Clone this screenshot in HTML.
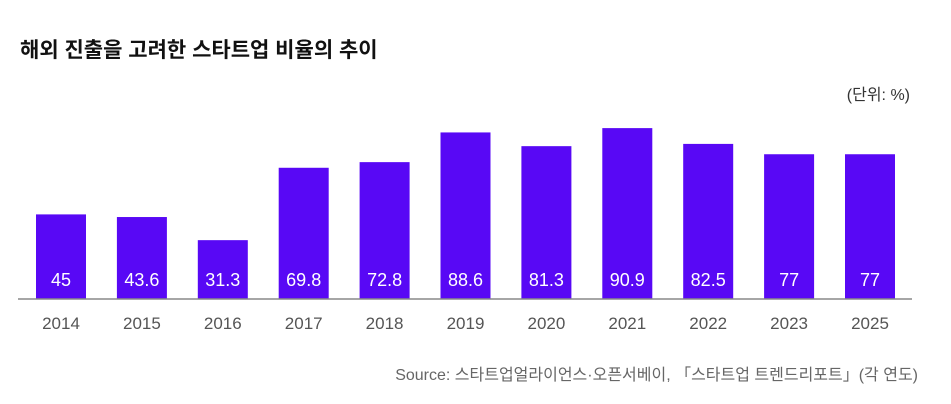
<!DOCTYPE html>
<html><head><meta charset="utf-8"><style>
body{margin:0;background:#fff;width:951px;height:404px;overflow:hidden;font-family:"Liberation Sans","Noto Sans CJK KR",sans-serif}
</style></head><body>
<svg width="951" height="404" style="display:block">
<text x="20" y="57" font-size="21" font-weight="bold" fill="#111" font-family="Liberation Sans, Noto Sans CJK KR, sans-serif">해외 진출을 고려한 스타트업 비율의 추이</text>
<text x="910" y="100" font-size="16" fill="#333" text-anchor="end" font-family="Liberation Sans, Noto Sans CJK KR, sans-serif">(단위: %)</text>
<g id="bars"></g>
<line x1="18" y1="299" x2="912" y2="299" stroke="#888" stroke-width="1.5"/>
<text x="918" y="380" font-size="16" fill="#666" text-anchor="end" font-family="Liberation Sans, Noto Sans CJK KR, sans-serif">Source: 스타트업얼라이언스·오픈서베이, 「스타트업 트렌드리포트」(각 연도)</text>
</svg>
<script>
const categories=["2014","2015","2016","2017","2018","2019","2020","2021","2022","2023","2025"];
const values=[45,43.6,31.3,69.8,72.8,88.6,81.3,90.9,82.5,77,77];
const valueLabels=["45","43.6","31.3","69.8","72.8","88.6","81.3","90.9","82.5","77","77"];
const base=299,scale=1.88,x0=36,step=80.9,bw=50;
const y=v=>base-v*scale;
const xp=i=>x0+i*step;
const g=document.getElementById('bars');
const NS='http://www.w3.org/2000/svg';
categories.forEach((c,i)=>{
  const r=document.createElementNS(NS,'rect');
  r.setAttribute('x',xp(i));r.setAttribute('y',y(values[i]));
  r.setAttribute('width',bw);r.setAttribute('height',base-y(values[i]));
  r.setAttribute('fill','#5808F5');
  
  
  g.appendChild(r);
  const t=document.createElementNS(NS,'text');
  t.setAttribute('x',xp(i)+bw/2);t.setAttribute('y',286);
  t.setAttribute('text-anchor','middle');t.setAttribute('font-size','18');t.setAttribute('fill','#fff');
  t.textContent=valueLabels[i];
  
  
  g.appendChild(t);
  const l=document.createElementNS(NS,'text');
  l.setAttribute('x',xp(i)+bw/2);l.setAttribute('y',329);
  l.setAttribute('text-anchor','middle');l.setAttribute('font-size','17');l.setAttribute('fill','#555');
  l.textContent=c;
  
  
  g.appendChild(l);
});
</script>
</body></html>
